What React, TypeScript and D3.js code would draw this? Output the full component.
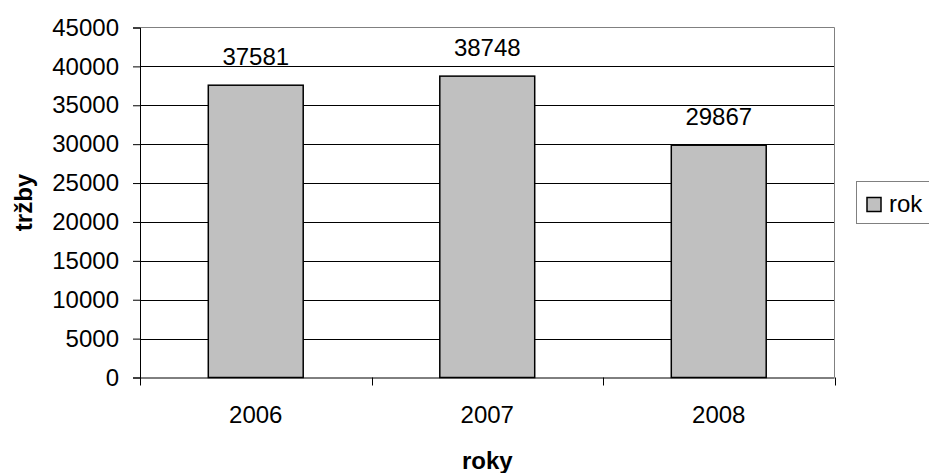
import React, { useEffect, useRef } from 'react';
import * as d3 from 'd3';

// data
const years: string[] = ['2006', '2007', '2008'];
const sales: number[] = [37581, 38748, 29867];
const yTicks: number[] = [0, 5000, 10000, 15000, 20000, 25000, 30000, 35000, 40000, 45000];
const seriesName = 'rok';
const yTitle = 'tržby';
const xTitle = 'roky';

const App: React.FC = () => {
  const svgRef = useRef<SVGSVGElement>(null);

  useEffect(() => {
    drawChart();
  }, []);

  const drawChart = () => {
    if (!svgRef.current) return;
    const svg = d3.select(svgRef.current);
    svg.selectAll('*').remove();

    const width = 929;
    const height = 473;
    const font = '"Liberation Sans", Arial, sans-serif';

    const plot = { left: 140, right: 834.5, top: 27.5, bottom: 377.5 };

    const x = d3.scaleBand<string>()
      .domain(years)
      .range([plot.left, plot.right])
      .paddingInner(0.59)
      .paddingOuter(0.295);

    const y = d3.scaleLinear()
      .domain([0, 45000])
      .range([plot.bottom, plot.top]);

    svg.attr('width', width).attr('height', height);

    // white background
    svg.append('rect')
      .attr('width', width)
      .attr('height', height)
      .style('fill', '#fff');

    // gridlines
    svg.selectAll('.grid')
      .data(yTicks.filter(t => t > 0 && t < 45000))
      .enter()
      .append('line')
      .attr('class', 'grid')
      .attr('x1', plot.left)
      .attr('x2', plot.right)
      .attr('y1', d => Math.round(y(d)) + 0.5)
      .attr('y2', d => Math.round(y(d)) + 0.5)
      .style('stroke', '#000')
      .style('stroke-width', '1px');

    // plot border top/right (gray)
    svg.append('path')
      .attr('d', `M${plot.left},${plot.top}H${plot.right}V${plot.bottom}`)
      .style('fill', 'none')
      .style('stroke', '#808080')
      .style('stroke-width', '1px');

    // bars
    svg.selectAll('.bar')
      .data(years)
      .enter()
      .append('rect')
      .attr('class', 'bar')
      .attr('x', d => x(d) as number)
      .attr('width', x.bandwidth())
      .attr('y', (d, i) => y(sales[i]))
      .attr('height', (d, i) => y(0) - y(sales[i]))
      .style('fill', '#c0c0c0')
      .style('stroke', '#000')
      .style('stroke-width', '1.5px');

    // value labels
    svg.selectAll('.value')
      .data(years)
      .enter()
      .append('text')
      .attr('class', 'value')
      .attr('x', d => (x(d) as number) + x.bandwidth() / 2)
      .attr('y', (d, i) => y(sales[i]) - 20)
      .attr('text-anchor', 'middle')
      .style('font-family', font)
      .style('font-size', '24px')
      .style('fill', '#000')
      .text((d, i) => String(sales[i]));

    // y axis
    const yAxis = svg.append('g')
      .attr('transform', `translate(${plot.left},0)`)
      .call(d3.axisLeft(y).tickValues(yTicks).tickSize(7).tickPadding(14).tickFormat(d => String(d)));
    yAxis.select('.domain').style('stroke', '#000');
    yAxis.selectAll('line').style('stroke', '#000');
    yAxis.selectAll('text')
      .style('font-family', font)
      .style('font-size', '24px')
      .style('fill', '#000');

    // x axis: baseline + ticks at category boundaries
    const step = (plot.right - plot.left) / years.length;
    const boundaries = d3.range(years.length + 1).map(i => plot.left + i * step);
    svg.append('line')
      .attr('x1', plot.left)
      .attr('x2', plot.right)
      .attr('y1', plot.bottom + 0.5)
      .attr('y2', plot.bottom + 0.5)
      .style('stroke', '#000')
      .style('stroke-width', '1px');
    svg.selectAll('.xtick')
      .data(boundaries)
      .enter()
      .append('line')
      .attr('class', 'xtick')
      .attr('x1', d => Math.round(d) + 0.5)
      .attr('x2', d => Math.round(d) + 0.5)
      .attr('y1', plot.bottom)
      .attr('y2', plot.bottom + 8)
      .style('stroke', '#000');

    svg.selectAll('.xlabel')
      .data(years)
      .enter()
      .append('text')
      .attr('class', 'xlabel')
      .attr('x', d => (x(d) as number) + x.bandwidth() / 2)
      .attr('y', 423)
      .attr('text-anchor', 'middle')
      .style('font-family', font)
      .style('font-size', '24px')
      .style('fill', '#000')
      .text(d => d);

    // axis titles
    svg.append('text')
      .attr('x', (plot.left + plot.right) / 2)
      .attr('y', 469)
      .attr('text-anchor', 'middle')
      .style('font-family', font)
      .style('font-size', '24px')
      .style('font-weight', 'bold')
      .text(xTitle);

    svg.append('text')
      .attr('transform', `translate(32,${(plot.top + plot.bottom) / 2}) rotate(-90)`)
      .attr('text-anchor', 'middle')
      .style('font-family', font)
      .style('font-size', '24px')
      .style('font-weight', 'bold')
      .text(yTitle);

    // legend
    const legend = svg.append('g');
    legend.append('rect')
      .attr('x', 856.5)
      .attr('y', 181.5)
      .attr('width', 90)
      .attr('height', 42)
      .style('fill', '#fff')
      .style('stroke', '#808080')
      .style('stroke-width', '1px');
    legend.append('rect')
      .attr('x', 867)
      .attr('y', 197.5)
      .attr('width', 14)
      .attr('height', 14)
      .style('fill', '#c0c0c0')
      .style('stroke', '#000')
      .style('stroke-width', '1.5px');
    legend.append('text')
      .attr('x', 889)
      .attr('y', 211.5)
      .style('font-family', font)
      .style('font-size', '24px')
      .style('fill', '#000')
      .text(seriesName);
  };

  return (
    <div style={{ position: 'absolute', left: 0, top: 0, width: 929, height: 473, background: '#fff' }}>
      <svg ref={svgRef} style={{ display: 'block' }}></svg>
    </div>
  );
};

export default App;
